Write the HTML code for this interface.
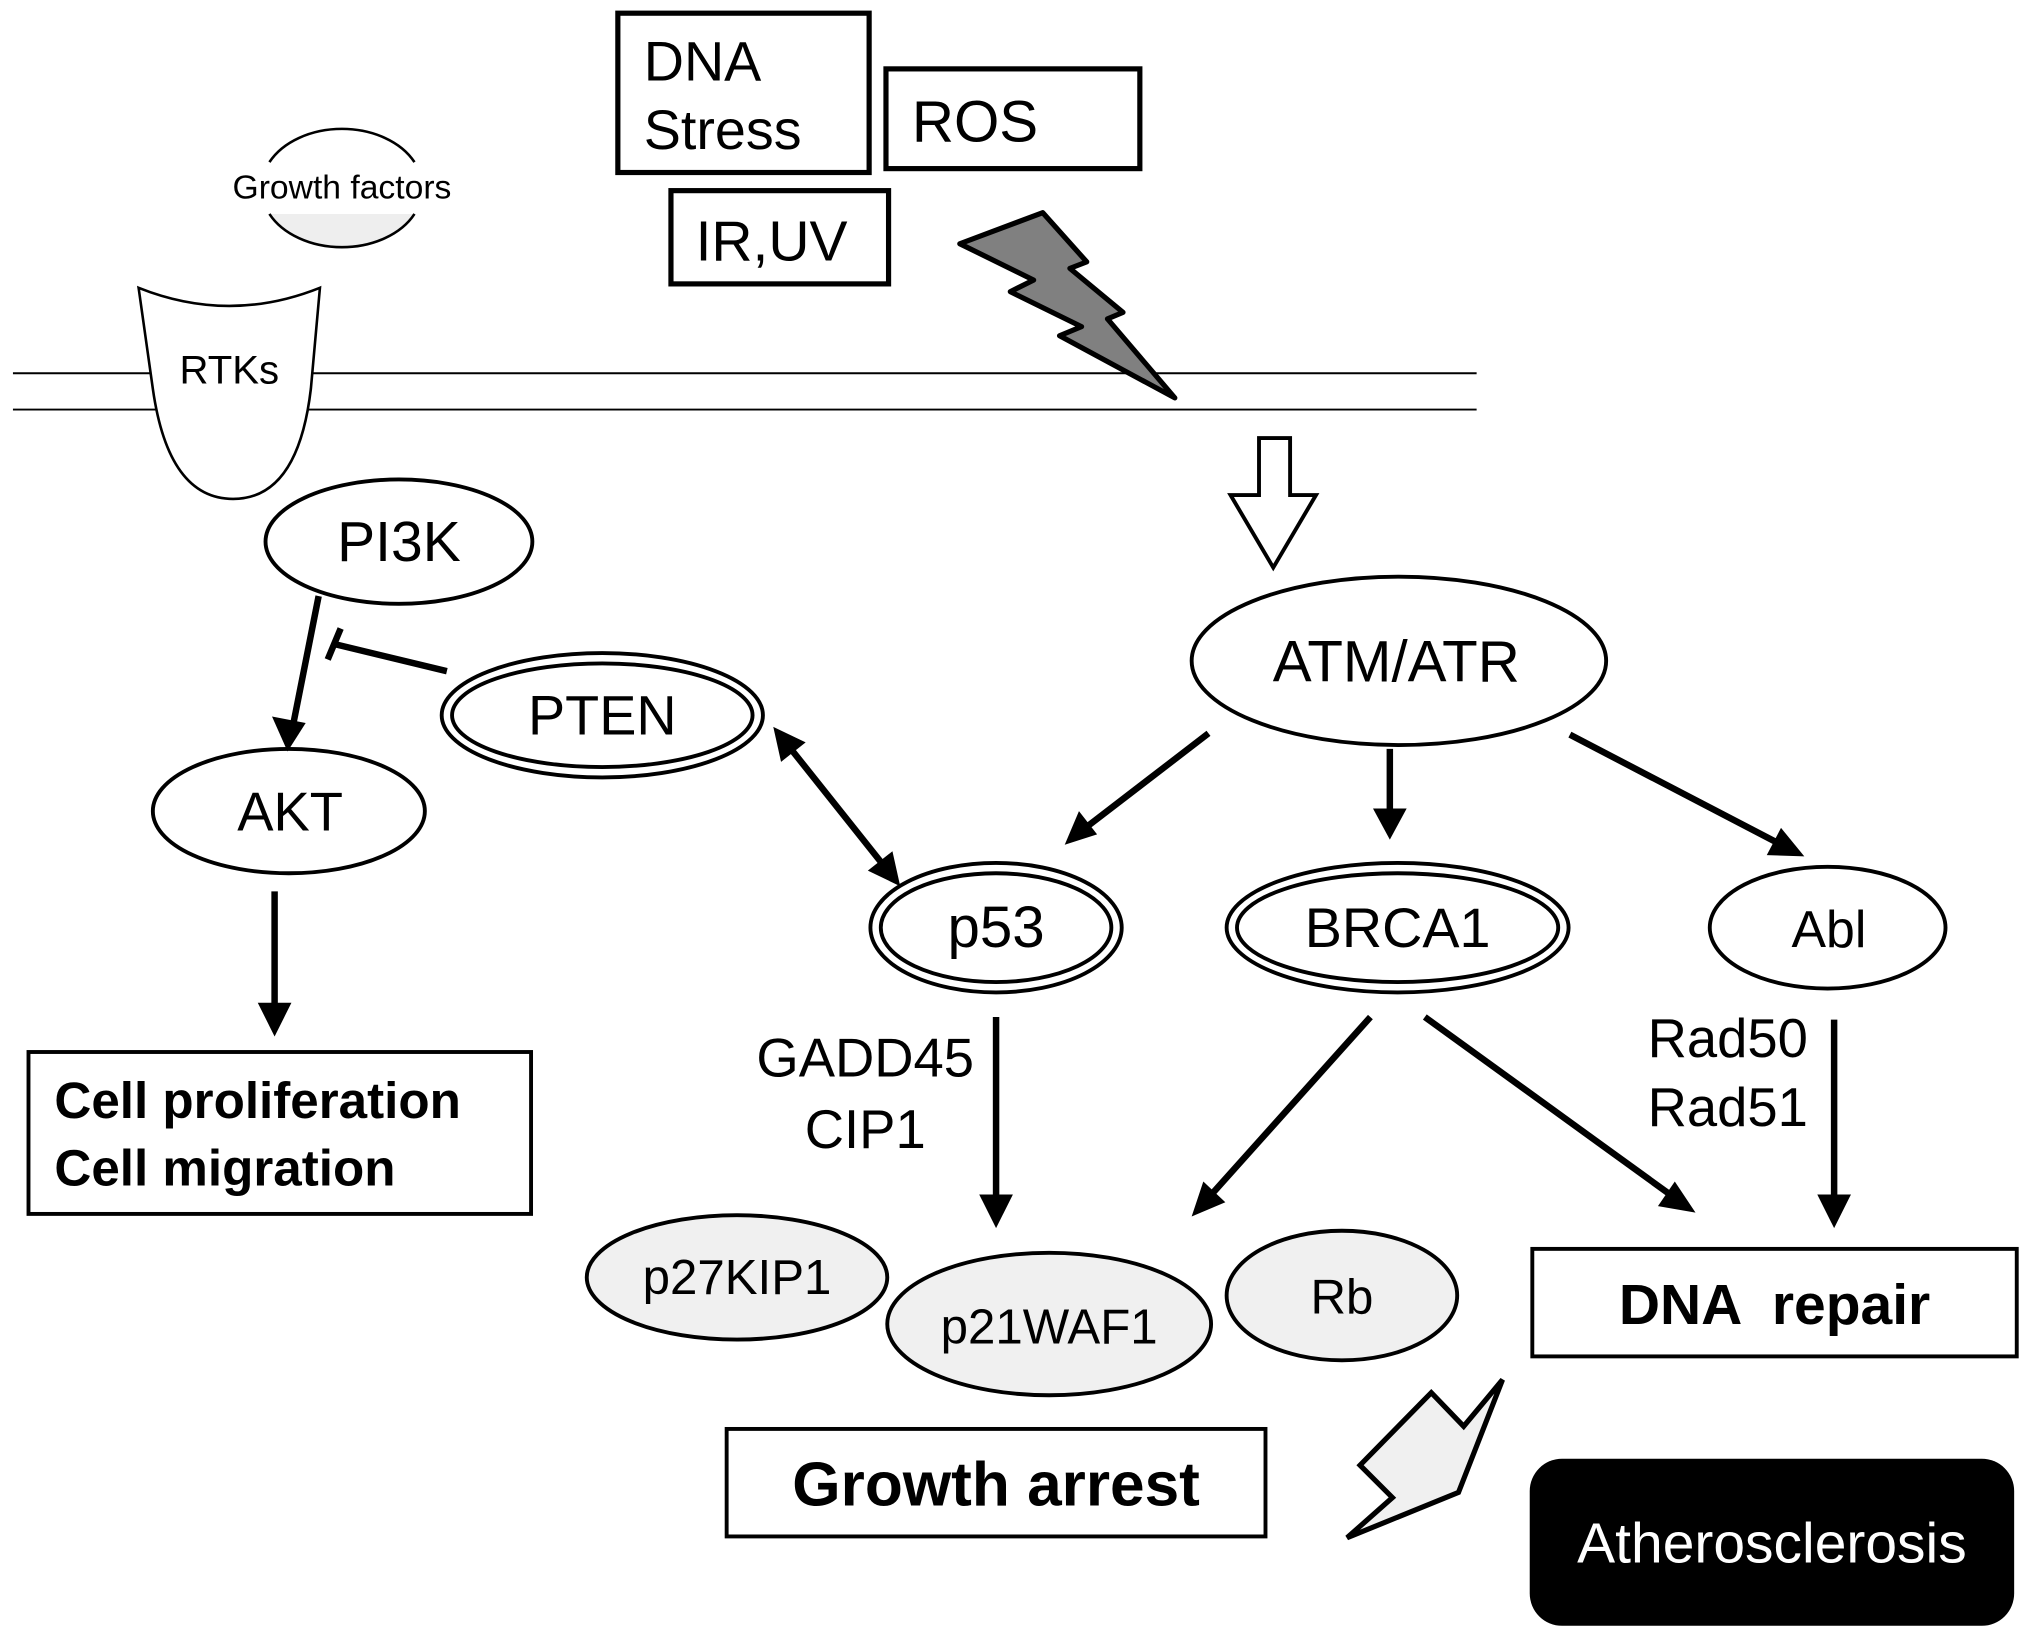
<!DOCTYPE html>
<html><head><style>html,body{margin:0;padding:0;background:#fff}svg{display:block}</style></head>
<body>
<svg width="2031" height="1639" viewBox="0 0 1568 1265" xmlns="http://www.w3.org/2000/svg" font-family="Liberation Sans, sans-serif">
<rect width="1568" height="1265" fill="#fff"/>
<line x1="10" y1="288" x2="1140" y2="288" stroke="#000" stroke-width="1.5"/>
<line x1="10" y1="316" x2="1140" y2="316" stroke="#000" stroke-width="1.5"/>
<g fill="#fff" stroke="#000" stroke-width="4">
<rect x="477" y="10" width="194" height="123"/>
<rect x="684" y="53" width="196" height="77"/>
<rect x="518" y="147" width="168" height="72"/>
</g>
<g font-size="43" fill="#000">
<text x="497" y="62">DNA</text>
<text x="497" y="115">Stress</text>
<text x="704" y="109" font-size="45">ROS</text>
<text x="537" y="201" font-size="44">IR,UV</text>
</g>
<path d="M208,125 A62,45 0 0 1 320,125" fill="none" stroke="#000" stroke-width="2"/>
<path d="M208,165 A62,45 0 0 0 320,165 Z" fill="#eee" stroke="none"/>
<path d="M208,165 A62,45 0 0 0 320,165" fill="none" stroke="#000" stroke-width="2"/>
<text x="264" y="153" font-size="26" text-anchor="middle">Growth factors</text>
<path d="M107,222 Q177,250 247,222 L240,300 Q230,385 180,385 Q130,385 118,300 Z" fill="#fff" stroke="#000" stroke-width="2"/>
<text x="177" y="296" font-size="31" text-anchor="middle">RTKs</text>
<polygon points="741,188 805,164 839,202 826,207 867,241 855,246 907,307 818,259 835,252 780,225 798,216" fill="#808080" stroke="#000" stroke-width="4" stroke-linejoin="round"/>
<polygon points="972,338 996,338 996,382 1016,382 983,438 950,382 972,382" fill="#fff" stroke="#000" stroke-width="3"/>
<g fill="#fff" stroke="#000" stroke-width="3">
<ellipse cx="1080" cy="510" rx="160" ry="65"/>
<ellipse cx="308" cy="418" rx="103" ry="48"/>
<ellipse cx="465" cy="552" rx="124" ry="48"/>
<ellipse cx="465" cy="552" rx="116" ry="40"/>
<ellipse cx="223" cy="626" rx="105" ry="48"/>
<ellipse cx="769" cy="716" rx="97" ry="50"/>
<ellipse cx="769" cy="716" rx="89" ry="42"/>
<ellipse cx="1079" cy="716" rx="132" ry="50"/>
<ellipse cx="1079" cy="716" rx="124" ry="42"/>
<ellipse cx="1411" cy="716" rx="91" ry="47"/>
</g>
<g font-size="43" text-anchor="middle">
<text x="1078" y="526" font-size="45">ATM/ATR</text>
<text x="308" y="433" font-size="44">PI3K</text>
<text x="465" y="567">PTEN</text>
<text x="224" y="641" font-size="42">AKT</text>
<text x="769" y="731" font-size="45">p53</text>
<text x="1079" y="731">BRCA1</text>
<text x="1412" y="731" font-size="40">Abl</text>
</g>
<g stroke="#000" stroke-width="5" fill="none">
<line x1="246" y1="460" x2="225" y2="566"/>
<line x1="345" y1="518" x2="258" y2="497"/>
<line x1="253" y1="509" x2="263" y2="485"/>
<line x1="605" y1="571" x2="687" y2="674"/>
<line x1="933" y1="566" x2="834" y2="642"/>
<line x1="1073" y1="578" x2="1073" y2="636"/>
<line x1="1212" y1="567" x2="1381" y2="655"/>
<line x1="212" y1="688" x2="212" y2="788"/>
<line x1="769" y1="785" x2="769" y2="936"/>
<line x1="1058" y1="785" x2="929" y2="929"/>
<line x1="1100" y1="785" x2="1299" y2="929"/>
<line x1="1416" y1="787" x2="1416" y2="936"/>
</g>
<g fill="#000">
<polygon points="222,580 210,553 236,558"/>
<polygon points="597,561 622,573 603,588"/>
<polygon points="695,684 670,672 689,657"/>
<polygon points="822,652 833,626 847,644"/>
<polygon points="1073,648 1060,624 1086,624"/>
<polygon points="1393,661 1364,660 1375,639"/>
<polygon points="212,800 199,774 225,774"/>
<polygon points="769,948 756,922 782,922"/>
<polygon points="920,939 929,912 946,928"/>
<polygon points="1309,936 1280,931 1293,912"/>
<polygon points="1416,948 1403,922 1429,922"/>
</g>
<g font-size="42">
<text x="752" y="831" text-anchor="end">GADD45</text>
<text x="668" y="886" text-anchor="middle">CIP1</text>
<text x="1272" y="816">Rad50</text>
<text x="1272" y="869">Rad51</text>
</g>
<rect x="22" y="812" width="388" height="125" fill="#fff" stroke="#000" stroke-width="3"/>
<text x="42" y="863" font-size="39.5" font-weight="bold">Cell proliferation</text>
<text x="42" y="915" font-size="39.5" font-weight="bold">Cell migration</text>
<g fill="#f0f0f0" stroke="#000" stroke-width="3">
<ellipse cx="569" cy="986" rx="116" ry="48"/>
<ellipse cx="1036" cy="1000" rx="89" ry="50"/>
<ellipse cx="810" cy="1022" rx="125" ry="55"/>
</g>
<g font-size="38" text-anchor="middle">
<text x="569" y="999">p27KIP1</text>
<text x="1036" y="1014">Rb</text>
<text x="810" y="1037">p21WAF1</text>
</g>
<rect x="1183" y="964" width="374" height="83" fill="#fff" stroke="#000" stroke-width="3"/>
<text x="1370" y="1022" font-size="44" font-weight="bold" text-anchor="middle" xml:space="preserve">DNA  repair</text>
<rect x="561" y="1103" width="416" height="83" fill="#fff" stroke="#000" stroke-width="3"/>
<text x="769" y="1162" font-size="48" font-weight="bold" text-anchor="middle">Growth arrest</text>
<polygon points="1105,1075 1130,1101 1160,1065 1126,1152 1040,1187 1075,1156 1050,1131" fill="#f0f0f0" stroke="#000" stroke-width="4" stroke-linejoin="miter"/>
<rect x="1181" y="1126" width="374" height="129" rx="25" fill="#000"/>
<text x="1368" y="1206" font-size="44" fill="#fff" text-anchor="middle">Atherosclerosis</text>
</svg>
</body></html>
